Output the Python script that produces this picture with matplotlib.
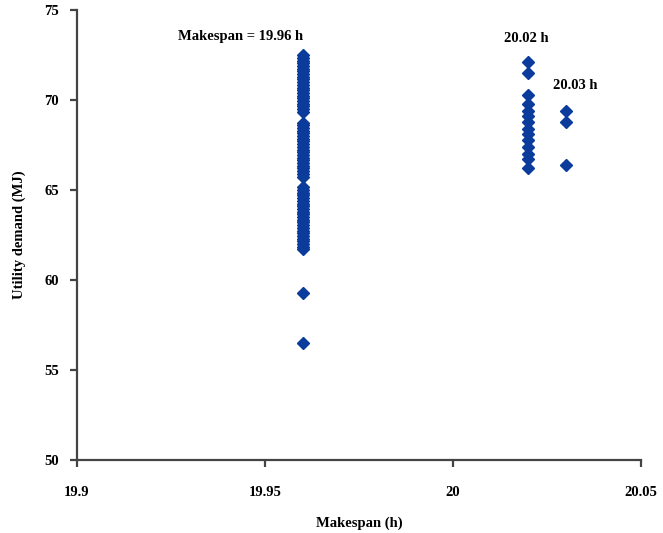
import matplotlib.pyplot as plt

# utility demand (MJ) for each makespan group
demand_1996 = [72.5, 72.35, 72.2, 72.05, 71.9, 71.75, 71.6, 71.45, 71.3, 71.15, 71.0, 70.85,
               70.7, 70.55, 70.4, 70.25, 70.1, 69.95, 69.8, 69.65, 69.5, 69.35,
               68.75, 68.6, 68.45, 68.3, 68.15, 68.0, 67.85, 67.7, 67.55, 67.4, 67.25, 67.1,
               66.95, 66.8, 66.65, 66.5, 66.35, 66.2, 66.05, 65.9, 65.75,
               65.15, 65.0, 64.85, 64.7, 64.55, 64.4, 64.25, 64.1, 63.95, 63.8, 63.65, 63.5,
               63.35, 63.2, 63.05, 62.9, 62.75, 62.6, 62.45, 62.3, 62.15, 62.0, 61.85, 61.7,
               59.3, 56.5]
demand_2002 = [72.1, 71.5, 70.3, 69.8, 69.4, 69.1, 68.8, 68.4, 68.1, 67.8, 67.4, 67.0, 66.7, 66.2]
demand_2003 = [69.4, 68.8, 66.4]
makespans = [19.96, 20.02, 20.03]

xtick_vals = [19.9, 19.95, 20.0, 20.05]
xtick_labels = ['19.9', '19.95', '20', '20.05']
ytick_vals = [50, 55, 60, 65, 70, 75]

plt.rcParams['font.family'] = 'Liberation Serif'
plt.rcParams['font.weight'] = 'bold'

fig = plt.figure(figsize=(6.63, 5.33), dpi=100)
ax = fig.add_axes([0.116, 0.137, 0.851, 0.844])

blue = '#0b3c9c'
for x, ys in zip(makespans, [demand_1996, demand_2002, demand_2003]):
    ax.plot([x] * len(ys), ys, linestyle='none', marker='D', markersize=6.5,
            color=blue, markeredgecolor=blue)

ax.set_xlim(19.9, 20.05)
ax.set_ylim(50, 75)
ax.set_xticks(xtick_vals)
ax.set_xticklabels(xtick_labels)
ax.set_yticks(ytick_vals)

for s in ['top', 'right']:
    ax.spines[s].set_visible(False)
for s in ['left', 'bottom']:
    ax.spines[s].set_color('#444444')
    ax.spines[s].set_linewidth(1.6)
ax.tick_params(direction='out', length=5, width=1.6, color='#444444', labelsize=10.5, pad=8)
ax.tick_params(axis='x', pad=14)

ax.set_xlabel('Makespan (h)', fontsize=10.5, fontweight='bold', labelpad=12)
ax.set_ylabel('Utility demand (MJ)', fontsize=10.5, fontweight='bold', labelpad=13)

ax.text(19.9436, 73.55, 'Makespan = 19.96 h', ha='center', va='center', fontsize=10.5, fontweight='bold')
ax.text(20.0195, 73.4, '20.02 h', ha='center', va='center', fontsize=10.5, fontweight='bold')
ax.text(20.0325, 70.8, '20.03 h', ha='center', va='center', fontsize=10.5, fontweight='bold')

fig.savefig('out.png', dpi=100)
